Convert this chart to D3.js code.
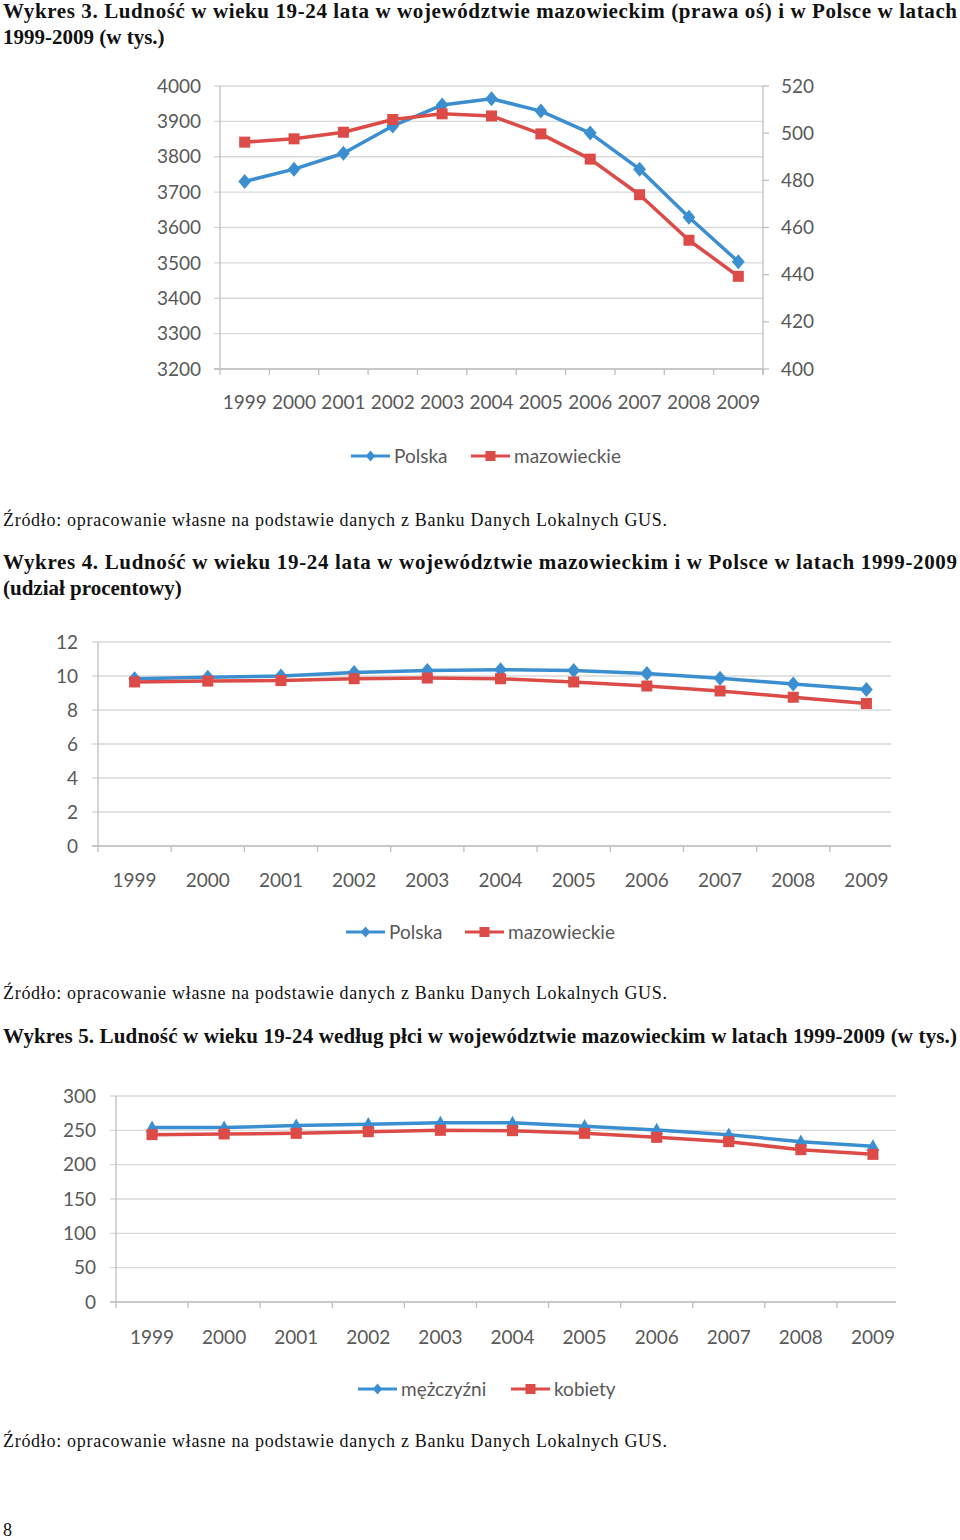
<!DOCTYPE html>
<html><head><meta charset="utf-8">
<script src="https://cdn.jsdelivr.net/npm/d3@7"></script>
<style>body{margin:0;background:#fff}svg{display:block}</style>
</head><body>
<script>
// ---------- data ----------
const years = ["1999","2000","2001","2002","2003","2004","2005","2006","2007","2008","2009"];

// Wykres 3 (w tys.)
const polska3 = [3730, 3765, 3810, 3887, 3946, 3964, 3929, 3867, 3765, 3629, 3503];
const mazow3  = [496.2, 497.6, 500.4, 505.8, 508.2, 507.3, 499.7, 489.0, 473.9, 454.6, 439.3];
const leftTicks3  = [3200, 3300, 3400, 3500, 3600, 3700, 3800, 3900, 4000];
const rightTicks3 = [400, 420, 440, 460, 480, 500, 520];

// Wykres 4 (udział procentowy)
const polska4 = [9.84, 9.93, 10.0, 10.2, 10.33, 10.37, 10.33, 10.14, 9.87, 9.53, 9.2];
const mazow4  = [9.65, 9.7, 9.73, 9.84, 9.88, 9.84, 9.65, 9.41, 9.12, 8.75, 8.38];
const ticks4 = [0, 2, 4, 6, 8, 10, 12];

// Wykres 5 (w tys.)
const mezczyzni5 = [254, 254, 257, 259, 261, 261, 256, 250.5, 243.7, 233.5, 226.7];
const kobiety5   = [243.7, 244.7, 245.6, 248, 250, 249.5, 245.6, 239.8, 233.5, 221.8, 215];
const ticks5 = [0, 50, 100, 150, 200, 250, 300];

const titles = {
  t3: ["Wykres 3. Ludność w wieku 19-24 lata w województwie mazowieckim (prawa oś) i w Polsce w latach", "1999-2009 (w tys.)"],
  t4: ["Wykres 4. Ludność w wieku 19-24 lata w województwie mazowieckim i w Polsce w latach 1999-2009", "(udział procentowy)"],
  t5: ["Wykres 5. Ludność w wieku 19-24 według płci w województwie mazowieckim w latach 1999-2009 (w tys.)"]
};
const sourceText = "Źródło: opracowanie własne na podstawie danych z Banku Danych Lokalnych GUS.";

// ---------- drawing ----------
const BLUE = "#3b8fd0", RED = "#dc4b47", GRID = "#d9d9d9", AXIS = "#bfbfbf", TXT = "#595959";
const CF = "Lato, 'Open Sans', sans-serif";
const SF = "'Liberation Serif', 'DejaVu Serif', serif";

const svg = d3.select("body").append("svg").attr("width", 960).attr("height", 1540);

function textLine(str, x, y, opts) {
  const t = svg.append("text").attr("x", x).attr("y", y)
    .attr("font-family", SF).attr("font-size", opts.size)
    .attr("font-weight", opts.bold ? "bold" : "normal").attr("fill", "#111").text(str);
  if (opts.len) t.attr("textLength", opts.len).attr("lengthAdjust", "spacing");
  return t;
}

// titles
textLine(titles.t3[0], 3, 18, {size: 21, bold: true, len: 954});
textLine(titles.t3[1], 3, 44, {size: 21, bold: true});
textLine(sourceText, 3, 526, {size: 18, len: 664});
textLine(titles.t4[0], 3, 569, {size: 21, bold: true, len: 954});
textLine(titles.t4[1], 3, 595, {size: 21, bold: true});
textLine(sourceText, 3, 999, {size: 18, len: 664});
textLine(titles.t5[0], 3, 1043, {size: 21, bold: true, len: 954});
textLine(sourceText, 3, 1447, {size: 18, len: 664});
textLine("8", 3, 1536, {size: 18});

function marker(g, type, x, y, color, s) {
  if (type === "diamond") {
    g.append("path").attr("d", `M${x},${y - s}L${x + s * 0.85},${y}L${x},${y + s}L${x - s * 0.85},${y}Z`).attr("fill", color);
  } else if (type === "square") {
    g.append("rect").attr("x", x - s).attr("y", y - s).attr("width", 2 * s).attr("height", 2 * s).attr("fill", color);
  } else if (type === "triangle") {
    g.append("path").attr("d", `M${x},${y - s * 1.1}L${x + s},${y + s * 0.7}L${x - s},${y + s * 0.7}Z`).attr("fill", color);
  }
}

function drawChart(cfg) {
  const g = svg.append("g");
  const x = d3.scaleBand().domain(years).range([cfg.x0, cfg.x1]);
  const yL = d3.scaleLinear().domain(cfg.leftDomain).range([cfg.yBottom, cfg.yTop]);
  const gridEnd = cfg.gridEnd || cfg.x1;
  g.selectAll(null).data(cfg.leftTicks).enter().append("line")
    .attr("x1", cfg.x0 - 6).attr("x2", gridEnd)
    .attr("y1", d => yL(d)).attr("y2", d => yL(d))
    .attr("stroke", GRID).attr("stroke-width", 1.3);
  g.append("line").attr("x1", cfg.x0).attr("x2", cfg.x0).attr("y1", cfg.yTop).attr("y2", cfg.yBottom + 6)
    .attr("stroke", AXIS).attr("stroke-width", 1.3);
  g.append("line").attr("x1", cfg.x0 - 6).attr("x2", gridEnd).attr("y1", cfg.yBottom).attr("y2", cfg.yBottom)
    .attr("stroke", AXIS).attr("stroke-width", 1.3);
  const bounds = years.slice(1).map(d => x(d));
  if (cfg.rightAxis) bounds.push(cfg.x1);
  g.selectAll(null).data(bounds).enter().append("line")
    .attr("x1", d => d).attr("x2", d => d).attr("y1", cfg.yBottom).attr("y2", cfg.yBottom + 6)
    .attr("stroke", AXIS).attr("stroke-width", 1.3);
  g.selectAll(null).data(cfg.leftTicks).enter().append("text")
    .attr("x", cfg.labelX).attr("y", d => yL(d)).attr("dy", "0.35em")
    .attr("text-anchor", "end").attr("font-family", CF).attr("font-size", 19).attr("fill", TXT)
    .text(d => d);
  g.selectAll(null).data(years).enter().append("text")
    .attr("x", d => x(d) + x.bandwidth() / 2).attr("y", cfg.yearY).attr("dy", "0.35em")
    .attr("text-anchor", "middle").attr("font-family", CF).attr("font-size", 19).attr("fill", TXT)
    .text(d => d);

  let yR = yL;
  if (cfg.rightAxis) {
    yR = d3.scaleLinear().domain(cfg.rightDomain).range([cfg.yBottom, cfg.yTop]);
    g.append("line").attr("x1", cfg.x1).attr("x2", cfg.x1).attr("y1", cfg.yTop).attr("y2", cfg.yBottom + 6)
      .attr("stroke", AXIS).attr("stroke-width", 1.3);
    g.selectAll(null).data(cfg.rightTicks).enter().append("line")
      .attr("x1", cfg.x1).attr("x2", cfg.x1 + 6).attr("y1", d => yR(d)).attr("y2", d => yR(d))
      .attr("stroke", AXIS).attr("stroke-width", 1.3);
    g.selectAll(null).data(cfg.rightTicks).enter().append("text")
      .attr("x", cfg.x1 + 18).attr("y", d => yR(d)).attr("dy", "0.35em")
      .attr("text-anchor", "start").attr("font-family", CF).attr("font-size", 19).attr("fill", TXT)
      .text(d => d);
  }

  cfg.series.forEach(s => {
    const sc = s.right ? yR : yL;
    const line = d3.line().x((d, i) => x(years[i]) + x.bandwidth() / 2).y(d => sc(d));
    g.append("path").datum(s.values).attr("d", line).attr("fill", "none")
      .attr("stroke", s.color).attr("stroke-width", 3.5).attr("stroke-linejoin", "round");
    s.values.forEach((v, i) => marker(g, s.marker, x(years[i]) + x.bandwidth() / 2, sc(v), s.color, s.msize));
  });

  cfg.series.forEach(s => {
    const L = s.legend;
    g.append("line").attr("x1", L.x).attr("x2", L.x + 39).attr("y1", cfg.legendY).attr("y2", cfg.legendY)
      .attr("stroke", s.color).attr("stroke-width", 3.2);
    marker(g, s.legendMarker, L.x + 19.5, cfg.legendY, s.color, s.legendMarker === "square" ? 5 : 5.5);
    g.append("text").attr("x", L.x + 43).attr("y", cfg.legendY).attr("dy", "0.35em")
      .attr("font-family", CF).attr("font-size", 19).attr("fill", TXT).text(s.name);
  });
}

drawChart({
  x0: 220, x1: 763, yTop: 86, yBottom: 369,
  leftDomain: [3200, 4000], leftTicks: leftTicks3, labelX: 201,
  rightAxis: true, rightDomain: [400, 520], rightTicks: rightTicks3,
  yearY: 402, legendY: 456,
  series: [
    {name: "Polska", values: polska3, color: BLUE, marker: "diamond", msize: 7.5, legendMarker: "diamond", legend: {x: 351}},
    {name: "mazowieckie", values: mazow3, color: RED, marker: "square", msize: 5.5, right: true, legendMarker: "square", legend: {x: 471}}
  ]
});

drawChart({
  x0: 98, x1: 903, gridEnd: 891, yTop: 642, yBottom: 846,
  leftDomain: [0, 12], leftTicks: ticks4, labelX: 78,
  yearY: 880, legendY: 932,
  series: [
    {name: "Polska", values: polska4, color: BLUE, marker: "diamond", msize: 7.5, legendMarker: "diamond", legend: {x: 346}},
    {name: "mazowieckie", values: mazow4, color: RED, marker: "square", msize: 5.5, legendMarker: "square", legend: {x: 465}}
  ]
});

drawChart({
  x0: 116, x1: 909, gridEnd: 896, yTop: 1096, yBottom: 1302,
  leftDomain: [0, 300], leftTicks: ticks5, labelX: 96,
  yearY: 1337, legendY: 1389,
  series: [
    {name: "mężczyźni", values: mezczyzni5, color: BLUE, marker: "triangle", msize: 6.5, legendMarker: "diamond", legend: {x: 358}},
    {name: "kobiety", values: kobiety5, color: RED, marker: "square", msize: 5.5, legendMarker: "square", legend: {x: 511}}
  ]
});
</script>
</body></html>
